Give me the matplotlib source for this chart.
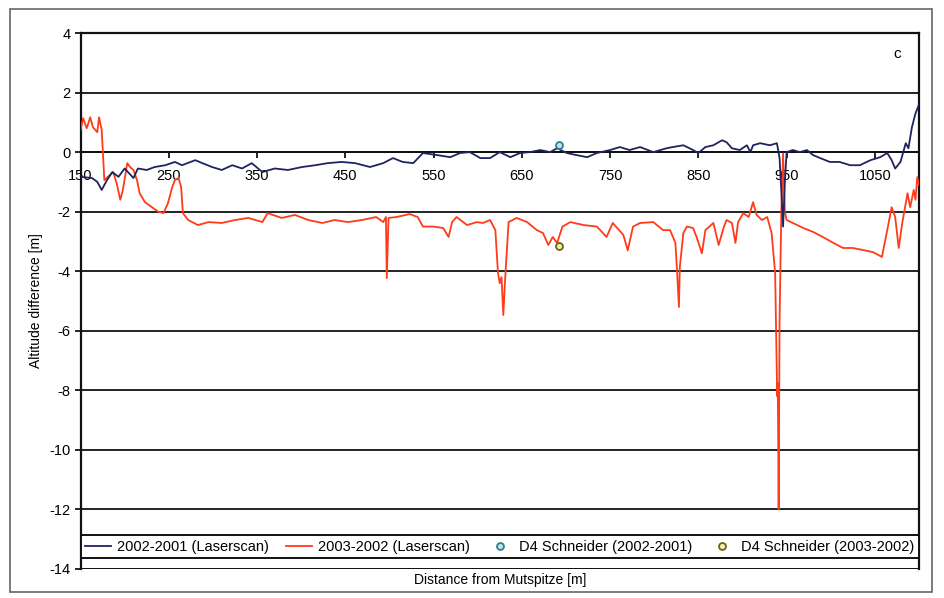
import matplotlib
matplotlib.use("Agg")
import matplotlib.pyplot as plt
from matplotlib.patches import Rectangle

plt.rcParams['font.family'] = ['Liberation Sans', 'DejaVu Sans']
plt.rcParams['axes.unicode_minus'] = False

# 2002-2001 (Laserscan)
dist_a = [150, 163, 169, 174, 180, 186, 193, 200, 210, 215, 225, 234, 246, 257, 265,
          280, 288, 299, 310, 322, 333, 344, 356, 370, 385, 401, 416, 430, 446, 461,
          478, 493, 504, 515, 527, 538, 554, 569, 580, 591, 603, 614, 625, 637, 648,
          659, 671, 682, 690, 701, 712, 724, 735, 750, 761, 772, 784, 799, 814, 821,
          833, 844, 850, 858, 867, 877, 882, 888, 897, 905, 909, 912, 920, 931, 939,
          942, 944, 946, 948, 950, 957, 965, 973, 980, 988, 999, 1010, 1022, 1033, 1045,
          1056, 1064, 1069, 1073, 1079, 1085, 1088, 1092, 1096, 1100]
diff_a = [-0.83, -0.87, -1.0, -1.27, -0.94, -0.67, -0.83, -0.55, -0.87, -0.55, -0.6, -0.5, -0.44, -0.33, -0.44,
          -0.27, -0.37, -0.5, -0.6, -0.44, -0.55, -0.37, -0.67, -0.55, -0.6, -0.5, -0.44, -0.37, -0.33, -0.37,
          -0.5, -0.37, -0.2, -0.33, -0.37, -0.03, -0.1, -0.17, -0.03, 0.0, -0.2, -0.2, 0.0, -0.17, -0.03,
          0.0, 0.07, 0.0, 0.13, -0.03, -0.1, -0.17, -0.03, 0.07, 0.17, 0.07, 0.17, 0.0, 0.13, 0.17,
          0.23, 0.07, -0.03, 0.17, 0.23, 0.4, 0.33, 0.13, 0.07, 0.23, 0.0, 0.23, 0.3, 0.23, 0.3,
          -0.2, -1.3, -2.5, -1.0, 0.0, 0.07, 0.0, 0.07, -0.1, -0.2, -0.33, -0.33, -0.44, -0.44, -0.27,
          -0.17, -0.03, -0.27, -0.55, -0.33, 0.3, 0.13, 0.84, 1.3, 1.6]

# 2003-2002 (Laserscan)
dist_b = [150, 153, 157, 161, 164, 169, 171, 174, 177, 181, 187, 191, 195, 198, 203,
          206, 210, 214, 217, 223, 231, 238, 244, 249, 254, 257, 261, 264, 266, 272,
          283, 295, 310, 325, 340, 356, 362, 378, 393, 408, 424, 438, 453, 469, 480,
          485, 493, 496, 497, 499, 508, 523, 532, 538, 550, 561, 567, 571, 576, 588,
          599, 606, 614, 620, 623, 625, 627, 629, 631, 633, 635, 644, 656, 667, 674,
          680, 685, 690, 696, 705, 720, 735, 746, 753, 765, 770, 776, 784, 799, 810,
          818, 824, 826, 828, 829, 833, 837, 844, 848, 854, 858, 867, 873, 879, 882,
          888, 892, 895, 901, 907, 912, 916, 922, 928, 933, 937, 939, 939.5, 940, 941,
          942, 944, 946, 948, 950, 957, 969, 980, 991, 1003, 1014, 1025, 1037, 1048, 1058,
          1064, 1069, 1073, 1077, 1081, 1087, 1090, 1094, 1096, 1098, 1100]
diff_b = [0.74, 1.14, 0.8, 1.17, 0.84, 0.67, 1.17, 0.74, -0.94, -0.83, -0.67, -1.05, -1.6, -1.27, -0.37,
          -0.5, -0.6, -0.94, -1.38, -1.68, -1.85, -2.0, -2.05, -1.72, -1.17, -0.94, -0.87, -1.17, -2.05, -2.28,
          -2.45, -2.35, -2.38, -2.28, -2.21, -2.35, -2.05, -2.21, -2.11, -2.28, -2.38, -2.28, -2.35, -2.28, -2.21,
          -2.18, -2.35, -2.18, -4.23, -2.21, -2.18, -2.08, -2.18, -2.5, -2.5, -2.55, -2.85, -2.35, -2.18, -2.45,
          -2.35, -2.38, -2.28, -2.62, -4.06, -4.4, -4.2, -5.47, -4.3, -3.3, -2.35, -2.21, -2.35, -2.62, -2.72,
          -3.12, -2.85, -3.05, -2.5, -2.35, -2.45, -2.5, -2.85, -2.38, -2.78, -3.3, -2.5, -2.38, -2.35, -2.62,
          -2.62, -3.05, -4.06, -5.2, -3.86, -2.72, -2.5, -2.55, -2.85, -3.4, -2.62, -2.38, -3.12, -2.5, -2.28,
          -2.38, -3.05, -2.35, -2.05, -2.18, -1.68, -2.11, -2.28, -2.18, -2.72, -4.06, -7.65, -8.2, -7.75, -12.0,
          -5.7, -2.0, -0.05, -2.0, -2.28, -2.38, -2.55, -2.68, -2.85, -3.05, -3.22, -3.22, -3.29, -3.36, -3.52,
          -2.62, -1.85, -2.18, -3.22, -2.38, -1.38, -1.85, -1.27, -1.6, -0.84, -1.1]

# D4 Schneider single points
d4_x = [692]
d4_a = [0.23]
d4_b = [-3.15]

xticks = [150, 250, 350, 450, 550, 650, 750, 850, 950, 1050]
yticks = [4, 2, 0, -2, -4, -6, -8, -10, -12, -14]

fig = plt.figure(figsize=(9.45, 5.98), dpi=100)
ax = fig.add_axes([0.0852, 0.0485, 0.8873, 0.8963])

ax.plot(dist_a, diff_a, color='#1f235f', lw=1.3, label='2002-2001 (Laserscan)', zorder=4)
ax.plot(dist_b, diff_b, color='#ff3b1a', lw=1.3, label='2003-2002 (Laserscan)', zorder=3)
ax.plot(d4_x, d4_a, 'o', ms=5, mfc='#bfe3ea', mec='#2f7f96', mew=1.3, ls='none',
        label='D4 Schneider (2002-2001)', zorder=5)
ax.plot(d4_x, d4_b, 'o', ms=5, mfc='#f4efb0', mec='#6b6410', mew=1.3, ls='none',
        label='D4 Schneider (2003-2002)', zorder=5)

ax.set_xlim(150, 1100)
ax.set_ylim(-14, 4)
ax.set_yticks(yticks)
ax.set_xticks(xticks)
ax.grid(True, axis='y', color='#222222', lw=1.4)
ax.set_axisbelow(True)

for s in ['left', 'right', 'top', 'bottom']:
    ax.spines[s].set_linewidth(1.6)
    ax.spines[s].set_color('#111111')
ax.spines['bottom'].set_position(('data', 0))
ax.spines['bottom'].set_linewidth(1.4)
ax.axhline(-14, color='#111111', lw=2.0, zorder=2)

ax.tick_params(axis='y', direction='out', length=4, width=1.2, pad=3, labelsize=10.5)
ax.tick_params(axis='x', direction='out', length=4, width=1.2, pad=8, labelsize=10.5)

ax.set_ylabel('Altitude difference [m]', fontsize=10, labelpad=5)
ax.text(0.5, -0.021, 'Distance from Mutspitze [m]', transform=ax.transAxes,
        ha='center', va='center', fontsize=10)
ax.text(0.974, 0.96, 'c', transform=ax.transAxes, ha='center', va='center', fontsize=11)

leg = ax.legend(loc='lower left', bbox_to_anchor=(0, 0.0205, 1, 0.0466), mode='expand',
                ncol=4, borderaxespad=0, fancybox=False, framealpha=1, edgecolor='#111111',
                fontsize=10.5, handlelength=1.8, handletextpad=0.4, borderpad=0.3)
leg.get_frame().set_linewidth(1.4)

fig.patches.append(Rectangle((0.011, 0.01), 0.975, 0.975, transform=fig.transFigure,
                             fill=False, edgecolor='#666666', lw=1.2))

fig.savefig('out.png', dpi=100)
